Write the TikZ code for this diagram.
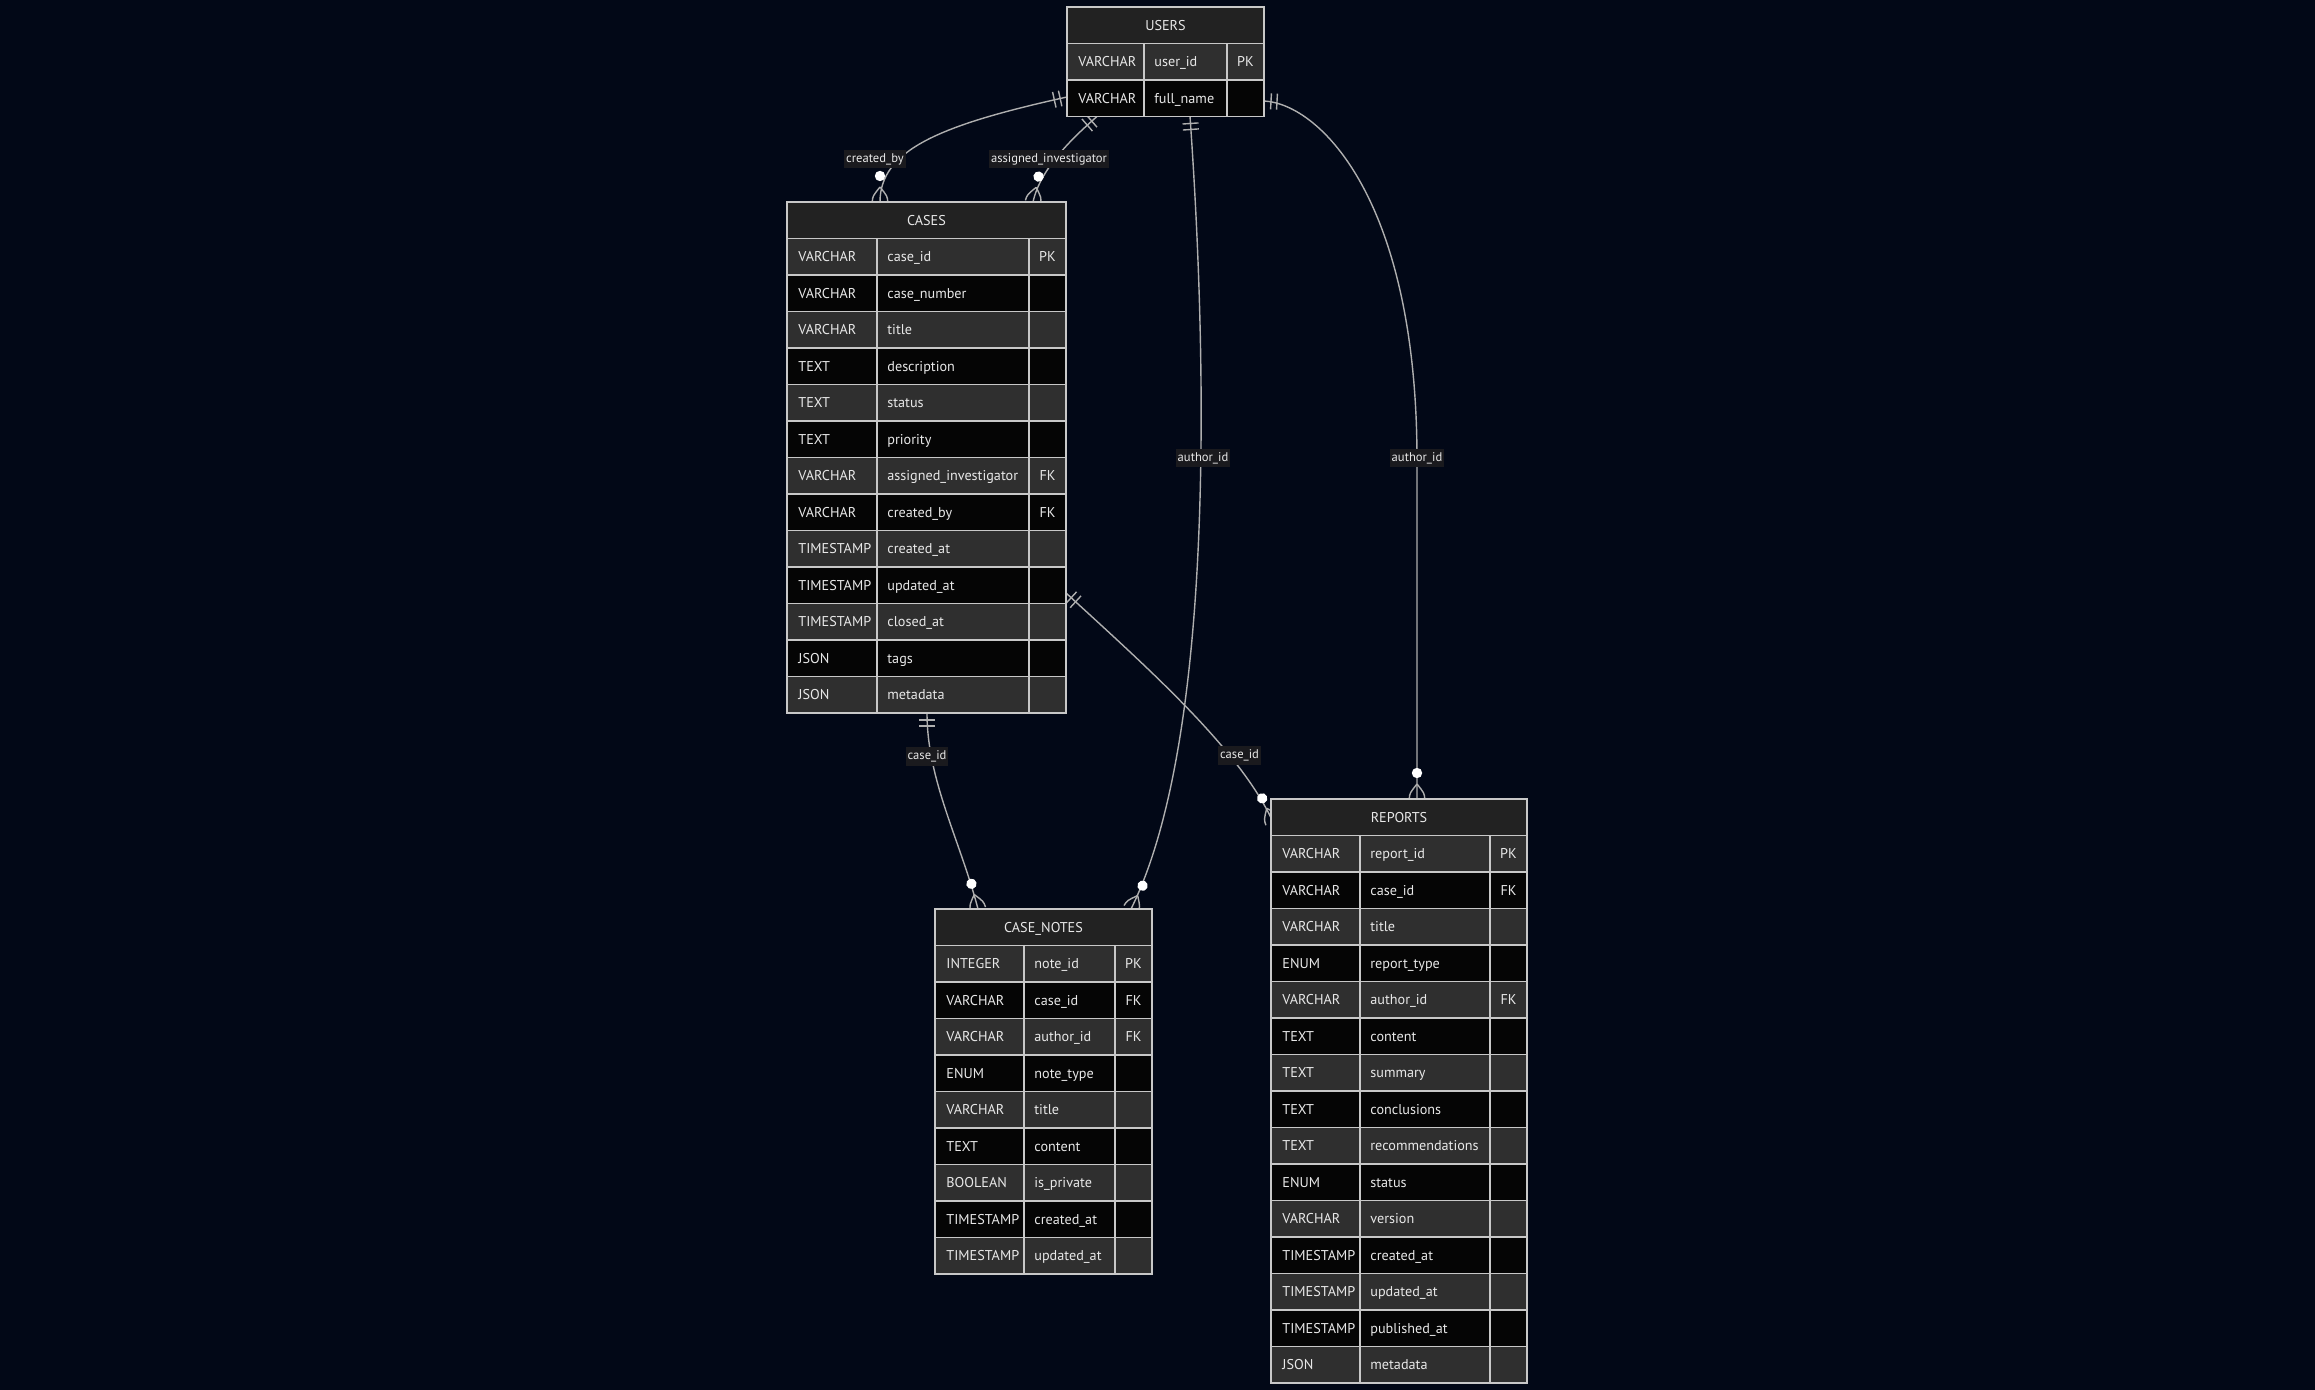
\documentclass[tikz,border=0pt]{standalone}
\usepackage{fontspec}
\setmainfont{PT Sans}
\usetikzlibrary{calc,fit}

\definecolor{bg}{RGB}{2,8,23}
\definecolor{hdrfill}{RGB}{34,34,34}
\definecolor{rowodd}{RGB}{47,47,47}
\definecolor{roweven}{RGB}{5,5,5}
\definecolor{gridc}{RGB}{200,200,200}
\definecolor{celltxt}{RGB}{232,232,232}
\definecolor{connc}{RGB}{175,175,175}
\definecolor{lblbg}{RGB}{26,26,30}
\definecolor{lbltxt}{RGB}{232,232,232}

\pgfdeclarelayer{back}
\pgfdeclarelayer{links}
\pgfsetlayers{back,links,main}

\tikzset{
  gridline/.style={draw=gridc, line width=0.85pt},
  celltext/.style={text=celltxt, font=\fontsize{7.1}{8}\selectfont, inner sep=0pt},
  titletext/.style={celltext},
  conn/.style={draw=connc, line width=0.7pt},
  relabel/.style={fill=lblbg, text=lbltxt, font=\fontsize{6.3}{7}\selectfont,
                  inner xsep=1pt, inner ysep=1.8pt},
  % "exactly one" end: two ticks across the line
  onemark/.pic={\draw[conn] (3.5pt,-4pt) -- (3.5pt,4pt) (6.5pt,-4pt) -- (6.5pt,4pt);},
  % "zero or more" end: ring plus crow's foot
  manymark/.pic={
    \draw[conn] (-7.5pt,0) .. controls (-3pt,3.6pt) .. (0,3.9pt)
                (-7.5pt,0) .. controls (-3pt,-3.6pt) .. (0,-3.9pt);
    \fill[white] (-13pt,0) circle (2.6pt);},
}

% #1 name, #2..#5 column edges, #6 top, #7 number of rows, #8 title, #9 rows
\newcommand{\erentity}[9]{%
  \fill[hdrfill] (#2,#6) rectangle (#5,#6+36.5);
  \node[titletext, anchor=mid] (#1-title) at ({(#2+#5)/2},#6+18.25) {#8};
  \foreach \ty/\nm/\ky [count=\i] in {#9} {
    \pgfmathsetmacro{\yt}{#6+36.5*\i}
    \ifodd\i\def\rowc{rowodd}\else\def\rowc{roweven}\fi
    \fill[fill=\rowc] (#2,\yt) rectangle (#5,\yt+36.5);
    \node[celltext, anchor=mid west] (#1-type\i) at (#2+11,\yt+18.25) {\ty};
    \node[celltext, anchor=mid west] (#1-name\i) at (#3+10,\yt+18.25) {\nm};
    \node[celltext, anchor=mid] (#1-key\i) at ({(#4+#5)/2},\yt+18.25) {\ky};
    \draw[gridline] (#2,\yt) -- (#5,\yt);
  }
  \draw[gridline] (#3,#6+36.5) -- (#3,#6+36.5*#7+36.5)
                  (#4,#6+36.5) -- (#4,#6+36.5*#7+36.5);
  \draw[gridline] (#2,#6) rectangle (#5,#6+36.5*#7+36.5);
  \path (#2,#6) coordinate (#1-nw) (#5,#6+36.5*#7+36.5) coordinate (#1-se);
  \node[fit=(#1-nw)(#1-se), inner sep=0pt, outer sep=0pt] (#1) {};
}

\begin{document}
\begin{tikzpicture}[x=0.5pt,y=-0.5pt]
\useasboundingbox (0,0) rectangle (2315,1390);
\begin{pgfonlayer}{back}
  \fill[bg] (0,0) rectangle (2315,1390);
\end{pgfonlayer}

% ---------- entities ----------
\erentity{users}{1067}{1144}{1227}{1264}{7}{2}{USERS}{
  VARCHAR/user\_id/PK, VARCHAR/full\_name/{}}

\erentity{cases}{787}{877}{1029}{1066}{202}{13}{CASES}{
  VARCHAR/case\_id/PK, VARCHAR/case\_number/{}, VARCHAR/title/{},
  TEXT/description/{}, TEXT/status/{}, TEXT/priority/{},
  VARCHAR/assigned\_investigator/FK, VARCHAR/created\_by/FK,
  TIMESTAMP/created\_at/{}, TIMESTAMP/updated\_at/{}, TIMESTAMP/closed\_at/{},
  JSON/tags/{}, JSON/metadata/{}}

\erentity{notes}{935}{1024}{1115}{1152}{909}{9}{CASE\_NOTES}{
  INTEGER/note\_id/PK, VARCHAR/case\_id/FK, VARCHAR/author\_id/FK,
  ENUM/note\_type/{}, VARCHAR/title/{}, TEXT/content/{},
  BOOLEAN/is\_private/{}, TIMESTAMP/created\_at/{}, TIMESTAMP/updated\_at/{}}

\erentity{reports}{1271}{1360}{1490}{1527}{799}{15}{REPORTS}{
  VARCHAR/report\_id/PK, VARCHAR/case\_id/FK, VARCHAR/title/{},
  ENUM/report\_type/{}, VARCHAR/author\_id/FK, TEXT/content/{},
  TEXT/summary/{}, TEXT/conclusions/{}, TEXT/recommendations/{},
  ENUM/status/{}, VARCHAR/version/{}, TIMESTAMP/created\_at/{},
  TIMESTAMP/updated\_at/{}, TIMESTAMP/published\_at/{}, JSON/metadata/{}}

% ---------- relationship end points ----------
\coordinate (c1a) at ($(users.north west)+(0,90)$);
\coordinate (c1b) at ($(cases.north west)+(93,0)$);
\coordinate (c2a) at ($(users.south west)+(30,0)$);
\coordinate (c2b) at ($(cases.north west)+(246,0)$);
\coordinate (c3a) at ($(users.south west)+(123,0)$);
\coordinate (c3b) at ($(notes.north west)+(196,0)$);
\coordinate (c4a) at ($(users.north east)+(0,94)$);
\coordinate (c4m) at ($(reports.north west)+(146,-339)$);
\coordinate (c4b) at ($(reports.north west)+(146,0)$);
\coordinate (c5a) at ($(cases.south west)+(140,0)$);
\coordinate (c5b) at ($(notes.north west)+(43,0)$);
\coordinate (c6a) at ($(cases.north east)+(0,391)$);
\coordinate (c6b) at ($(reports.north west)+(2,23)$);

% ---------- relationships ----------
\begin{pgfonlayer}{links}
  \draw[conn] (c1a) .. controls +(-127,28) and +(0,-52) .. (c1b);
  \draw[conn] (c2a) .. controls +(-27,23.5) and +(7,-32) .. (c2b);
  \draw[conn] (c3a) .. controls +(20,283.5) and +(79,-159) .. (c3b);
  \draw[conn] (c4a) .. controls +(56,3) and +(0,-260) .. (c4m) -- (c4b);
  \draw[conn] (c5a) .. controls +(0,67) and +(-18,-69) .. (c5b);
  \draw[conn] (c6a) .. controls +(84,77) and +(-33,-72) .. (c6b);

  \pic[rotate=192.4] at (c1a) {onemark};  \pic[rotate=-90]    at (c1b) {manymark};
  \pic[rotate=-139]  at (c2a) {onemark};  \pic[rotate=-102.3] at (c2b) {manymark};
  \pic[rotate=-86]   at (c3a) {onemark};  \pic[rotate=-116.4] at (c3b) {manymark};
  \pic[rotate=-3.1]  at (c4a) {onemark};  \pic[rotate=-90]    at (c4b) {manymark};
  \pic[rotate=-90]   at (c5a) {onemark};  \pic[rotate=-75.4]  at (c5b) {manymark};
  \pic[rotate=-42.5] at (c6a) {onemark};  \pic[rotate=-65.4]  at (c6b) {manymark};
\end{pgfonlayer}

% ---------- relationship labels ----------
\node[relabel] (lcreated)  at (875,159)    {created\_by};
\node[relabel] (lassigned) at (1049,159)   {assigned\_investigator};
\node[relabel] (lnauthor)  at (1203,458)   {author\_id};
\node[relabel] (lrauthor)  at (1417,458)   {author\_id};
\node[relabel] (lncase)    at (927,756.5)  {case\_id};
\node[relabel] (lrcase)    at (1239.5,755.5) {case\_id};
\end{tikzpicture}
\end{document}
